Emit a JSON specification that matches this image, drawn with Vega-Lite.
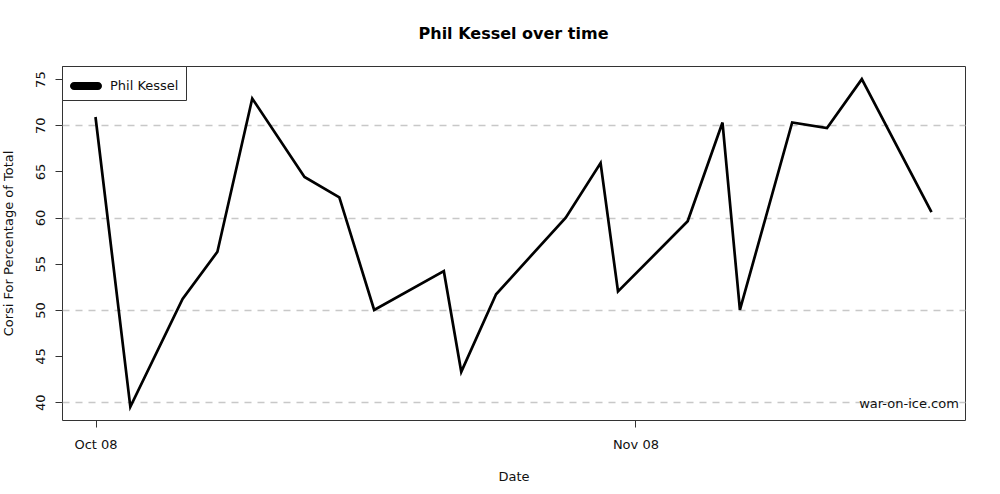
{
  "$schema": "https://vega.github.io/schema/vega-lite/v6.json",
  "width": 903,
  "height": 354,
  "autosize": {"type": "none"},
  "padding": {"left": 62, "top": 66, "right": 35, "bottom": 74},
  "background": "white",
  "config": {
    "font": "DejaVu Sans",
    "view": {"stroke": "#333", "strokeWidth": 1}
  },
  "title": {
    "text": "Phil Kessel over time",
    "fontSize": 16,
    "fontWeight": "bold",
    "font": "DejaVu Sans",
    "color": "black",
    "offset": 24,
    "anchor": "middle"
  },
  "layer": [
    {
      "data": {
        "values": [
          {"date": "2014-10-08", "cf": 70.9, "player": "Phil Kessel"},
          {"date": "2014-10-10", "cf": 39.5, "player": "Phil Kessel"},
          {"date": "2014-10-13", "cf": 51.2, "player": "Phil Kessel"},
          {"date": "2014-10-15", "cf": 56.3, "player": "Phil Kessel"},
          {"date": "2014-10-17", "cf": 72.9, "player": "Phil Kessel"},
          {"date": "2014-10-20", "cf": 64.4, "player": "Phil Kessel"},
          {"date": "2014-10-22", "cf": 62.2, "player": "Phil Kessel"},
          {"date": "2014-10-24", "cf": 50.0, "player": "Phil Kessel"},
          {"date": "2014-10-28", "cf": 54.2, "player": "Phil Kessel"},
          {"date": "2014-10-29", "cf": 43.3, "player": "Phil Kessel"},
          {"date": "2014-10-31", "cf": 51.7, "player": "Phil Kessel"},
          {"date": "2014-11-04", "cf": 60.0, "player": "Phil Kessel"},
          {"date": "2014-11-06", "cf": 65.9, "player": "Phil Kessel"},
          {"date": "2014-11-07", "cf": 52.0, "player": "Phil Kessel"},
          {"date": "2014-11-11", "cf": 59.6, "player": "Phil Kessel"},
          {"date": "2014-11-13", "cf": 70.3, "player": "Phil Kessel"},
          {"date": "2014-11-14", "cf": 50.0, "player": "Phil Kessel"},
          {"date": "2014-11-17", "cf": 70.3, "player": "Phil Kessel"},
          {"date": "2014-11-19", "cf": 69.7, "player": "Phil Kessel"},
          {"date": "2014-11-21", "cf": 75.0, "player": "Phil Kessel"},
          {"date": "2014-11-25", "cf": 60.6, "player": "Phil Kessel"}
        ]
      },
      "mark": {"type": "line", "strokeWidth": 2.7, "strokeJoin": "miter"},
      "encoding": {
        "x": {
          "field": "date",
          "type": "temporal",
          "scale": {
            "type": "utc",
            "domain": ["2014-10-06T01:50:00Z", "2014-11-26T22:10:00Z"],
            "nice": false
          },
          "axis": {
            "title": "Date",
            "values": [
              {"year": 2014, "month": 10, "date": 8, "utc": true},
              {"year": 2014, "month": 11, "date": 8, "utc": true}
            ],
            "labelExpr": "['Jan','Feb','Mar','Apr','May','Jun','Jul','Aug','Sep','Oct','Nov','Dec'][utcmonth(datum.value)] + ' 0' + utcdate(datum.value)",
            "grid": false,
            "domain": false,
            "tickColor": "#333",
            "tickSize": 7,
            "labelPadding": 11,
            "labelFontSize": 13,
            "labelColor": "#111",
            "titleFontSize": 13,
            "titleFontWeight": "normal",
            "titleColor": "#111",
            "titlePadding": 19
          }
        },
        "y": {
          "field": "cf",
          "type": "quantitative",
          "scale": {"domain": [38.08, 76.42], "nice": false, "zero": false},
          "axis": {
            "title": "Corsi For Percentage of Total",
            "values": [40, 45, 50, 55, 60, 65, 70, 75],
            "labelAngle": -90,
            "labelAlign": "center",
            "labelBaseline": "bottom",
            "domain": false,
            "tickColor": "#333",
            "tickSize": 7,
            "labelPadding": 8,
            "labelFontSize": 13,
            "labelColor": "#111",
            "titleFontSize": 13,
            "titleFontWeight": "normal",
            "titleColor": "#111",
            "titlePadding": 19,
            "grid": true,
            "gridColor": "#c8c8c8",
            "gridWidth": 1.5,
            "gridDash": [7, 6],
            "gridOpacity": {"condition": {"test": "datum.value % 10 === 0", "value": 1}, "value": 0}
          }
        },
        "stroke": {
          "field": "player",
          "type": "nominal",
          "scale": {"range": ["black"]},
          "legend": {
            "title": null,
            "orient": "top-left",
            "offset": 0,
            "symbolType": "M-0.92,-0.31H0.92A0.31,0.31,0,0,1,0.92,0.31H-0.92A0.31,0.31,0,0,1,-0.92,-0.31Z",
            "symbolSize": 676,
            "symbolStrokeWidth": 0,
            "symbolFillColor": "black",
            "symbolOffset": 4,
            "labelOffset": 11,
            "labelFontSize": 13,
            "labelColor": "#111",
            "strokeColor": "#333",
            "fillColor": "white",
            "padding": 7,
            "cornerRadius": 0
          }
        }
      }
    },
    {
      "data": {"values": [{"label": "war-on-ice.com"}]},
      "mark": {"type": "text", "align": "right", "baseline": "middle", "fontSize": 13, "fill": "#111", "font": "DejaVu Sans"},
      "encoding": {
        "x": {"datum": {"year": 2014, "month": 11, "date": 26, "hours": 13, "minutes": 40, "utc": true}, "type": "temporal"},
        "y": {"datum": 39.8, "type": "quantitative"},
        "text": {"field": "label"}
      }
    }
  ]
}
